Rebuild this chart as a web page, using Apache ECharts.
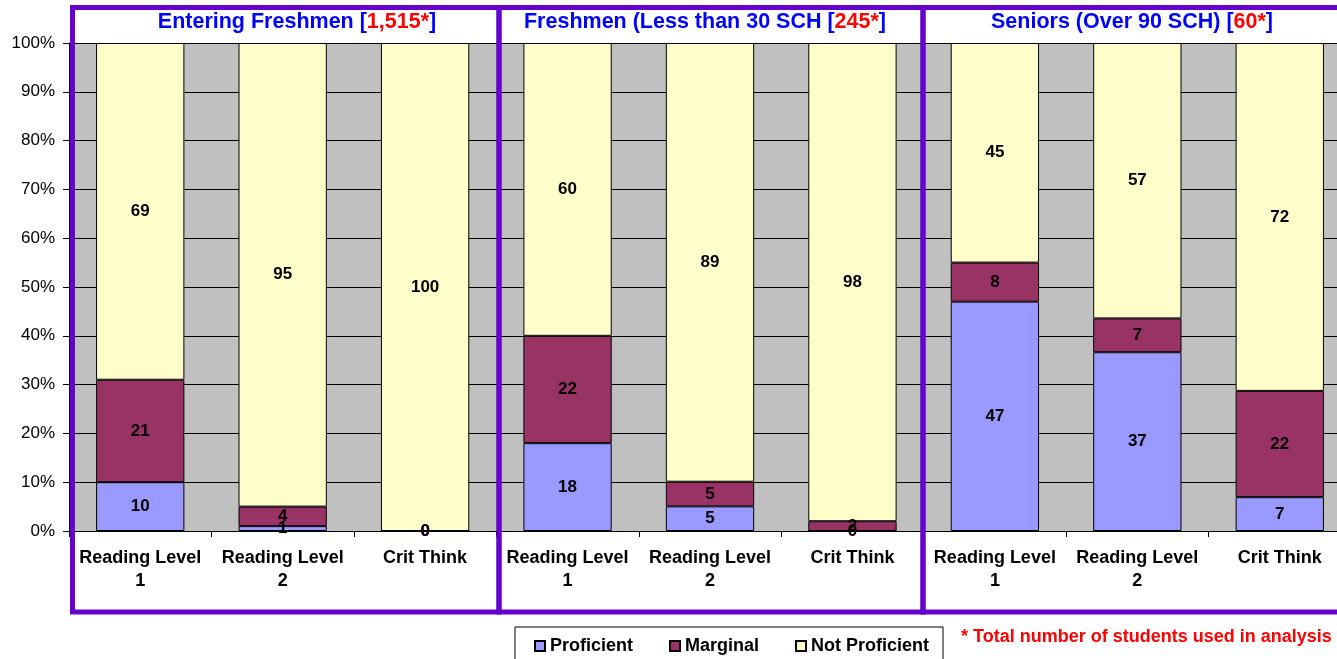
<!DOCTYPE html>
<html>
<head>
<meta charset="utf-8">
<script src="https://cdn.jsdelivr.net/npm/echarts@6/dist/echarts.min.js"></script>
<style>
  html, body { margin: 0; padding: 0; background: #fff; }
  #chart { width: 1337px; height: 659px; }
</style>
</head>
<body>
<div id="chart"></div>
<script>
// categories (3 per group)
var categories = [
  "Reading Level\n1", "Reading Level\n2", "Crit Think",
  "Reading Level\n1", "Reading Level\n2", "Crit Think",
  "Reading Level\n1", "Reading Level\n2", "Crit Think"
];
var groupNames = ["Entering Freshmen [", "Freshmen (Less than 30 SCH [", "Seniors (Over 90 SCH) ["];
var groupCounts = ["1,515*", "245*", "60*"];
var seriesNames = ["Proficient", "Marginal", "Not Proficient"];

// labelled values (percent of students)
var proficient = [10, 1, 0, 18, 5, 0, 47, 37, 7];
var marginal = [21, 4, 0, 22, 5, 2, 8, 7, 22];
var notProficient = [69, 95, 100, 60, 89, 98, 45, 57, 72];

var yTicks = [0, 10, 20, 30, 40, 50, 60, 70, 80, 90, 100];

var colors = ["#9999ff", "#993366", "#ffffcc"];
var raw = [proficient, marginal, notProficient];

// 100% stacked: scale every bar to its own total
var totals = proficient.map(function (v, i) {
  return v + marginal[i] + notProficient[i];
});
function toPct(arr) {
  return arr.map(function (v, i) { return v / totals[i] * 100; });
}

var myChart = echarts.init(document.getElementById("chart"));

var titleCenters = [297, 705, 1132];
var titles = groupNames.map(function (name, i) {
  return {
    text: "{b|" + name + "}{r|" + groupCounts[i] + "}{b|]}",
    left: titleCenters[i],
    top: 11,
    padding: 0,
    textAlign: "center",
    textStyle: {
      rich: {
        b: { fontFamily: "Liberation Sans", fontWeight: "bold", fontSize: 21.5, color: "#0000ff" },
        r: { fontFamily: "Liberation Sans", fontWeight: "bold", fontSize: 21.5, color: "#ff0000" }
      }
    }
  };
});
// footnote
titles.push({
  text: "* Total number of students used in analysis",
  left: 961,
  top: 628,
  padding: 0,
  textStyle: { fontFamily: "Liberation Sans", fontWeight: "bold", fontSize: 18, color: "#ff0000" }
});

var series = seriesNames.map(function (name, k) {
  return {
    name: name,
    type: "bar",
    stack: "all",
    barWidth: "62%",
    data: toPct(raw[k]),
    itemStyle: { color: colors[k], borderColor: "#000", borderWidth: 1 },
    label: {
      show: true,
      position: "inside",
      fontFamily: "Liberation Sans",
      fontWeight: "bold",
      fontSize: 17,
      color: "#000",
      formatter: function (p) { return raw[k][p.dataIndex]; }
    }
  };
});

myChart.setOption({
  animation: false,
  title: titles,
  grid: {
    left: 69,
    width: 1282,
    top: 43,
    bottom: 128,
    outerBoundsMode: "none",
    show: true,
    backgroundColor: "#c0c0c0",
    borderWidth: 0
  },
  legend: {
    data: seriesNames,
    left: 515,
    top: 627,
    padding: [10, 14, 12, 19],
    itemGap: 36,
    itemWidth: 10,
    itemHeight: 10,
    icon: "rect",
    borderColor: "#000",
    borderWidth: 1,
    textStyle: { fontFamily: "Liberation Sans", fontWeight: "bold", fontSize: 18, color: "#000" }
  },
  xAxis: {
    type: "category",
    data: categories,
    axisLine: { lineStyle: { color: "#000", width: 1 } },
    axisTick: { show: true, length: 6, lineStyle: { color: "#000" } },
    axisLabel: {
      interval: 0,
      margin: 16,
      lineHeight: 23,
      fontFamily: "Liberation Sans",
      fontWeight: "bold",
      fontSize: 18,
      color: "#000"
    }
  },
  yAxis: {
    type: "value",
    min: 0,
    max: 100,
    interval: 10,
    axisLine: { show: true, lineStyle: { color: "#000" } },
    axisTick: { show: true, length: 6, lineStyle: { color: "#000" } },
    splitLine: { lineStyle: { color: "#000", width: 1 } },
    axisLabel: {
      margin: 14,
      fontFamily: "Liberation Sans",
      fontSize: 17,
      color: "#000",
      formatter: function (v) { return yTicks.indexOf(v) >= 0 ? v + "%" : ""; }
    }
  },
  graphic: [
    { type: "rect", z: 100, shape: { x: 72.5, y: 7.5, width: 426.5, height: 604.5 }, style: { fill: null, stroke: "#6600cc", lineWidth: 5 } },
    { type: "rect", z: 100, shape: { x: 499, y: 7.5, width: 424, height: 604.5 }, style: { fill: null, stroke: "#6600cc", lineWidth: 5 } },
    { type: "rect", z: 100, shape: { x: 923, y: 7.5, width: 430, height: 604.5 }, style: { fill: null, stroke: "#6600cc", lineWidth: 5 } }
  ],
  series: series
});
</script>
</body>
</html>
